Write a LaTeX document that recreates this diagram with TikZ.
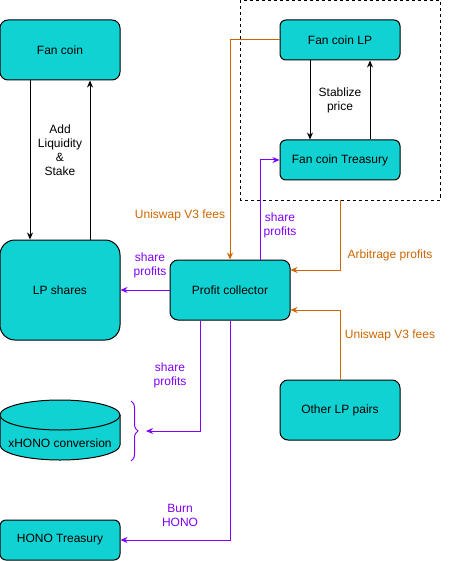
\documentclass[tikz,border=0pt]{standalone}
\usepackage{fontspec}
\setmainfont{Liberation Sans}
\usetikzlibrary{arrows.meta,decorations.pathreplacing}
\definecolor{figC}{RGB}{16,210,210}
\definecolor{figO}{RGB}{204,102,0}
\definecolor{figP}{RGB}{127,0,255}

\begin{document}
\begin{tikzpicture}[x=1pt,y=-1pt,line width=1pt,>={Stealth[length=7pt,width=6pt]},
  box/.style={draw,fill=figC,rounded corners=8pt,minimum width=120pt,minimum height=60pt,font=\fontsize{12}{14}\selectfont,inner sep=0pt},
  lbl/.style={font=\fontsize{12}{14}\selectfont,align=center,inner sep=1pt}]
\useasboundingbox (0,0) rectangle (461,561);
\draw[dashed,line width=0.8pt] (240,0.5) rectangle (440,200);
\coordinate (grpb) at (340,200);
\node[box] (fan) at (60,50) {Fan coin};
\node[box,minimum height=100pt,rounded corners=15pt] (lps) at (60,290) {LP shares};
\node[box,minimum height=40pt,rounded corners=6pt] (fanlp) at (340,40) {Fan coin LP};
\node[box,minimum height=40pt,rounded corners=6pt] (fantr) at (340,160) {Fan coin Treasury};
\node[box] (prof) at (230,290) {Profit collector};
\node[box] (other) at (340,410) {Other LP pairs};
\node[box,minimum height=40pt,rounded corners=6pt] (honotr) at (60,540) {HONO Treasury};
% cylinder
\draw[fill=figC] (0,415) -- (0,445) arc[start angle=180,end angle=0,x radius=60,y radius=15] -- (120,415) -- cycle;
\draw[fill=figC] (60,415) ellipse[x radius=60,y radius=15];
\node[lbl] (xhono) at (60,443) {xHONO conversion};
\draw[figP,decorate,decoration={brace,amplitude=7pt}] (131,401) -- (131,461);
\coordinate (brtip) at (146,431);
% black
\draw[->] ([xshift=-30pt]fan.south) -- ([xshift=-30pt]lps.north);
\draw[->] ([xshift=30pt]lps.north) -- ([xshift=30pt]fan.south);
\node[lbl] (addlq) at (60,150) {Add\\Liquidity\\\&\\Stake};
\draw[->] ([xshift=-30pt]fanlp.south) -- ([xshift=-30pt]fantr.north);
\draw[->] ([xshift=30pt]fantr.north) -- ([xshift=30pt]fanlp.south);
\node[lbl] (stab) at (340,100) {Stablize\\price};
% orange
\draw[->,figO] (fanlp.west) -| (prof.north);
\node[lbl,text=figO] (uni1) at (180,215) {Uniswap V3 fees};
\draw[->,figO] (grpb) |- ([yshift=20pt]prof.east);
\node[lbl,text=figO] (arb) at (390,255) {Arbitrage profits};
\draw[->,figO] (other.north) |- ([yshift=-20pt]prof.east);
\node[lbl,text=figO] (uni2) at (390,335) {Uniswap V3 fees};
% purple
\draw[->,figP] ([xshift=30pt]prof.north) |- (fantr.west);
\node[lbl,text=figP] (sh1) at (280,225) {share\\profits};
\draw[->,figP] (prof.west) -- (lps.east);
\node[lbl,text=figP] (sh2) at (150,265) {share\\profits};
\draw[->,figP] ([xshift=-30pt]prof.south) |- (brtip);
\node[lbl,text=figP] (sh3) at (170,375) {share\\profits};
\draw[->,figP] (prof.south) |- (honotr.east);
\node[lbl,text=figP] (burn) at (180,515) {Burn\\HONO};
\end{tikzpicture}
\end{document}
